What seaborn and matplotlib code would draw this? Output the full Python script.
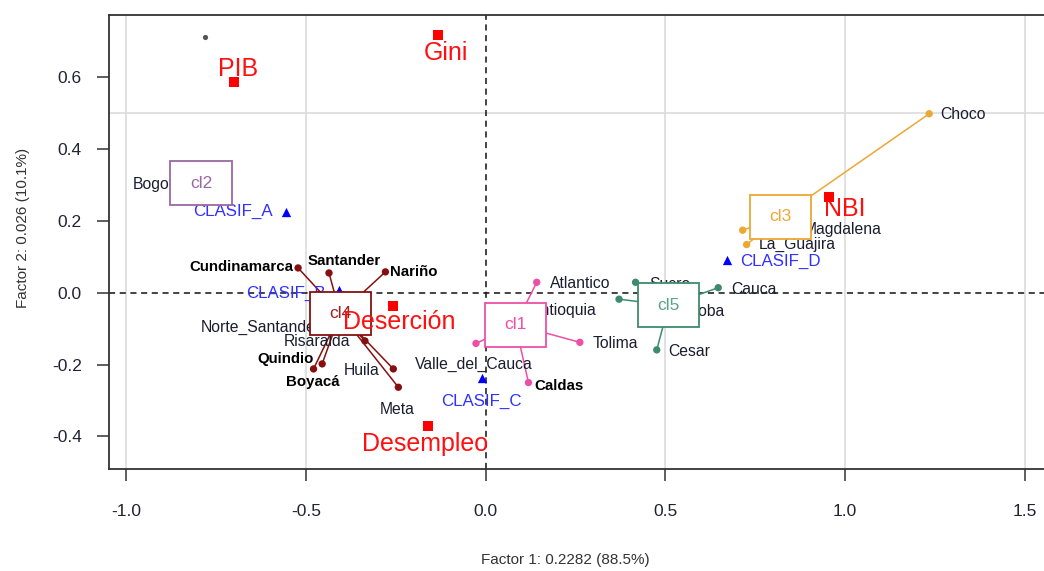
import numpy as np
import pandas as pd
import matplotlib.pyplot as plt
from matplotlib.patches import Rectangle
import seaborn as sns

# departamentos (coordenadas en el plano factorial)
deptos = ['Cundinamarca', 'Santander', 'Nariño', 'Norte_Santander', 'Risaralda', 'Quindio', 'Boyacá', 'Huila', 'Meta',
          'Atlantico', 'Antioquia', 'Tolima', 'Caldas', 'Valle_del_Cauca',
          'Sucre', 'Cordoba', 'Cauca', 'Cesar',
          'Choco', 'Magdalena', 'La_Guajira',
          'Bogota']
dim1 = [-0.522, -0.436, -0.279, -0.42, -0.336, -0.455, -0.479, -0.257, -0.243,
        0.142, 0.10, 0.262, 0.119, -0.027,
        0.417, 0.371, 0.647, 0.476,
        1.234, 0.715, 0.726,
        -0.792]
dim2 = [0.069, 0.055, 0.058, -0.07, -0.134, -0.198, -0.212, -0.212, -0.263,
        0.029, -0.054, -0.138, -0.250, -0.141,
        0.029, -0.018, 0.014, -0.159,
        0.498, 0.174, 0.134,
        0.305]
cluster = ['cl4'] * 9 + ['cl1'] * 5 + ['cl5'] * 4 + ['cl3'] * 3 + ['cl2']

# centros de los clusters
clusters = ['cl1', 'cl2', 'cl3', 'cl4', 'cl5']
cl_dim1 = [0.083, -0.792, 0.821, -0.405, 0.509]
cl_dim2 = [-0.089, 0.305, 0.211, -0.058, -0.035]

# categorias suplementarias
clasif = ['CLASIF_A', 'CLASIF_B', 'CLASIF_C', 'CLASIF_D']
clasif_dim1 = [-0.556, -0.407, -0.011, 0.671]
clasif_dim2 = [0.226, 0.0075, -0.238, 0.091]

# variables cuantitativas suplementarias
sup_vars = ['PIB', 'Gini', 'Deserción', 'Desempleo', 'NBI']
sup_dim1 = [-0.700, -0.132, -0.259, -0.160, 0.956]
sup_dim2 = [0.587, 0.717, -0.036, -0.370, 0.267]

# punto suelto arriba a la izquierda
extra_dim1 = [-0.781]
extra_dim2 = [0.711]

colores = {'cl1': '#EE4FA6', 'cl2': '#9A68A4', 'cl3': '#EDA735', 'cl4': '#861010', 'cl5': '#3D8B6D'}
color_txt = {'cl1': '#EE4FA6', 'cl2': '#9A68A4', 'cl3': '#EDA735', 'cl4': '#A02020', 'cl5': '#5AA38A'}

# desplazamiento de etiquetas (pixeles) y alineacion
off_deptos = {
    'Cundinamarca': (-5, 1, 'right'), 'Santander': (15, 12, 'center'), 'Nariño': (5, 0, 'left'),
    'Norte_Santander': (-14, -10, 'right'), 'Risaralda': (-15, -1, 'right'), 'Quindio': (-8, 5, 'right'),
    'Boyacá': (-1, -13, 'center'), 'Huila': (-14, -2, 'right'), 'Meta': (-1, -22, 'center'),
    'Atlantico': (13, -1, 'left'), 'Antioquia': (9, 2, 'left'), 'Tolima': (13, -1, 'left'),
    'Caldas': (6, -3, 'left'), 'Valle_del_Cauca': (-2, -21, 'center'),
    'Sucre': (14, -2, 'left'), 'Cordoba': (45, -12, 'left'), 'Cauca': (13, -2, 'left'), 'Cesar': (11, -2, 'left'),
    'Choco': (11, -1, 'left'), 'Magdalena': (61, 1, 'left'), 'La_Guajira': (12, 0, 'left'),
    'Bogota': (-68, -1, 'left'),
}
negrita = ['Cundinamarca', 'Santander', 'Nariño', 'Quindio', 'Boyacá', 'Caldas']
off_clasif = {'CLASIF_A': (-13, 0, 'right'), 'CLASIF_B': (-14, -3, 'right'),
              'CLASIF_C': (0, -23, 'center'), 'CLASIF_D': (13, -1, 'left')}
off_sup = {'PIB': (4, 13), 'Gini': (8, -18), 'Deserción': (7, -16), 'Desempleo': (-3, -18), 'NBI': (15, -12)}

sns.set_style('white')
plt.rcParams['font.family'] = ['Liberation Sans', 'DejaVu Sans']

ind = pd.DataFrame({'depto': deptos, 'Dim1': dim1, 'Dim2': dim2, 'cluster': cluster})
cent = pd.DataFrame({'cluster': clusters, 'Dim1': cl_dim1, 'Dim2': cl_dim2}).set_index('cluster')
cla = pd.DataFrame({'cat': clasif, 'Dim1': clasif_dim1, 'Dim2': clasif_dim2})
sup = pd.DataFrame({'var': sup_vars, 'Dim1': sup_dim1, 'Dim2': sup_dim2})

fig = plt.figure(figsize=(10.44, 5.71), dpi=100)
ax = fig.add_axes([0.1042, 0.1786, 0.9015, 0.7951])

# rejilla
for v in [-1.0, -0.5, 0.5, 1.0, 1.5]:
    ax.axvline(v, color='#DCDCDC', lw=1.2, zorder=0)
ax.axhline(0.5, color='#DCDCDC', lw=1.2, zorder=0)
ax.axhline(0, color='#111111', lw=1.1, ls=(0, (4, 3)), zorder=1)
ax.axvline(0, color='#111111', lw=1.1, ls=(0, (4, 3)), zorder=1)

# lineas desde el centro del cluster
for _, r in ind.iterrows():
    c = cent.loc[r['cluster']]
    ax.plot([c['Dim1'], r['Dim1']], [c['Dim2'], r['Dim2']], color=colores[r['cluster']], lw=1.1, zorder=2)

sns.scatterplot(data=ind, x='Dim1', y='Dim2', hue='cluster', palette=colores, s=28, linewidth=0,
                legend=False, ax=ax, zorder=3)
sns.scatterplot(x=extra_dim1, y=extra_dim2, color='#555555', s=14, linewidth=0, ax=ax, zorder=3)
sns.scatterplot(data=cla, x='Dim1', y='Dim2', marker='^', color='#0000FF', s=45, linewidth=0,
                ax=ax, zorder=3)

for _, r in ind.iterrows():
    dx, dy, ha = off_deptos[r['depto']]
    bold = r['depto'] in negrita
    ax.annotate(r['depto'], (r['Dim1'], r['Dim2']), xytext=(dx, dy), textcoords='offset pixels',
                ha=ha, va='center', fontsize=10.8 if bold else 11.3,
                fontweight='bold' if bold else 'normal',
                color='#000000' if bold else '#1C1C30', zorder=4)

for _, r in cla.iterrows():
    dx, dy, ha = off_clasif[r['cat']]
    ax.annotate(r['cat'], (r['Dim1'], r['Dim2']), xytext=(dx, dy), textcoords='offset pixels',
                ha=ha, va='center', fontsize=12.2, color='#3030FF', zorder=4)

# cajas de los clusters
w, h = 0.170, 0.122
for k, c in cent.iterrows():
    ax.add_patch(Rectangle((c['Dim1'] - w / 2, c['Dim2'] - h / 2), w, h, facecolor='white',
                           edgecolor=colores[k], lw=1.3, zorder=5))
    ax.text(c['Dim1'], c['Dim2'], k, ha='center', va='center', fontsize=12.5, color=color_txt[k], zorder=6)

sns.scatterplot(data=sup, x='Dim1', y='Dim2', marker='s', color='#FF0000', s=55, linewidth=0,
                ax=ax, zorder=8)
for _, r in sup.iterrows():
    dx, dy = off_sup[r['var']]
    ax.annotate(r['var'], (r['Dim1'], r['Dim2']), xytext=(dx, dy), textcoords='offset pixels',
                ha='center', va='center', fontsize=18, color='#FF1010', zorder=7)

ax.set_xlim(-1.0487, 1.570)
ax.set_ylim(-0.4905, 0.7727)
ax.set_xticks(np.arange(-1.0, 1.51, 0.5))
ax.set_xticklabels(['-1.0', '-0.5', '0.0', '0.5', '1.0', '1.5'])
ax.set_yticks(np.arange(-0.4, 0.61, 0.2))
ax.set_yticklabels(['-0.4', '-0.2', '0.0', '0.2', '0.4', '0.6'])
ax.tick_params(axis='x', direction='out', length=8.4, width=1.1, pad=16.5, labelsize=12.5,
               colors='#333333', labelcolor='#222233', bottom=True)
ax.tick_params(axis='y', direction='out', length=8.4, width=1.1, pad=11, labelsize=12.5,
               colors='#333333', labelcolor='#222233', left=True)
ax.set_xlabel('')
ax.set_ylabel('')
for s in ax.spines.values():
    s.set_color('#333333')
    s.set_linewidth(1.3)

fig.text(565 / 1044, 1 - 560 / 571, 'Factor 1: 0.2282 (88.5%)', ha='center', va='center',
         fontsize=11, color='#333333')
fig.text(23 / 1044, 1 - 228 / 571, 'Factor 2: 0.026 (10.1%)', ha='center', va='center',
         rotation=90, fontsize=11, color='#333333')

fig.savefig('out.png', dpi=100)
